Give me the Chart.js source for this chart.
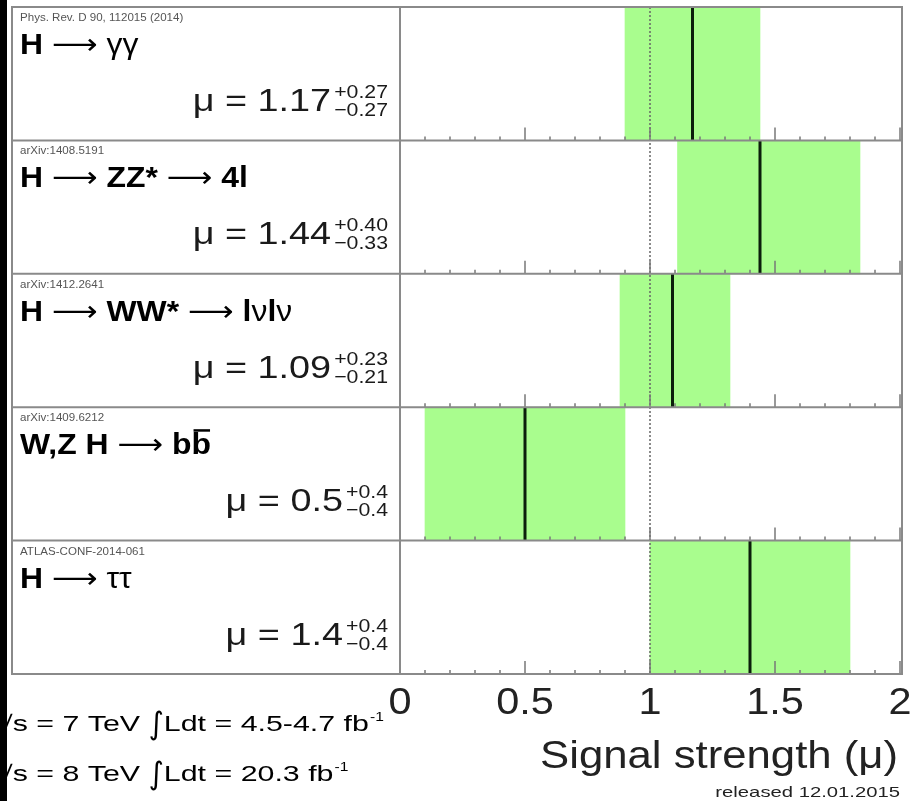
<!DOCTYPE html>
<html>
<head>
<meta charset="utf-8">
<script src="https://cdn.jsdelivr.net/npm/chart.js@4.4.1/dist/chart.umd.min.js"></script>
<style>
  html, body { margin: 0; padding: 0; background: #fff; }
  #wrap { width: 918px; height: 801px; position: relative; }
</style>
</head>
<body>
<div id="wrap"><canvas id="mu" width="918" height="801"></canvas></div>
<script>
// signal strength per channel, mu with asymmetric errors
const channels = ['H→γγ', 'H→ZZ*→4l', 'H→WW*→lνlν', 'W,Z H→bb', 'H→ττ'];
const refs = ['Phys. Rev. D 90, 112015 (2014)', 'arXiv:1408.5191', 'arXiv:1412.2641', 'arXiv:1409.6212', 'ATLAS-CONF-2014-061'];
const muVal = [1.17, 1.44, 1.09, 0.5, 1.4];
const errUp = [0.27, 0.40, 0.23, 0.4, 0.4];
const errDown = [0.27, 0.33, 0.21, 0.4, 0.4];
const digits = [2, 2, 2, 1, 1];
const xTicks = [0, 0.5, 1, 1.5, 2];
const xTickLabels = ['0', '0.5', '1', '1.5', '2'];

// channel titles as [text, bold, overline] pieces
const titleParts = [
  [['H', 1], [' ⟶ ', 0], ['γγ', 0]],
  [['H', 1], [' ⟶ ', 0], ['ZZ*', 1], [' ⟶ ', 0], ['4l', 1]],
  [['H', 1], [' ⟶ ', 0], ['WW*', 1], [' ⟶ ', 0], ['l', 1], ['ν', 0], ['l', 1], ['ν', 0]],
  [['W,Z H', 1], [' ⟶ ', 0], ['b', 1], ['b', 1, 1]],
  [['H', 1], [' ⟶ ', 0], ['ττ', 0]]
];

const FONT = '"Liberation Sans", Arial, "DejaVu Sans", sans-serif';

// draw text squeezed/stretched horizontally by k, returns drawn width
function putText(ctx, txt, x, y, font, k, align) {
  ctx.save();
  ctx.font = font;
  const w = ctx.measureText(txt).width * k;
  let x0 = x;
  if (align === 'right') x0 = x - w;
  else if (align === 'center') x0 = x - w / 2;
  ctx.translate(x0, y);
  ctx.scale(k, 1);
  ctx.textAlign = 'left';
  ctx.fillText(txt, 0, 0);
  ctx.restore();
  return w;
}

const decor = {
  id: 'decor',
  afterDatasetsDraw(chart) {
    const ctx = chart.ctx;
    const area = chart.chartArea;
    const xs = chart.scales.x;
    const ys = chart.scales.y;
    const half = (ys.getPixelForValue(1) - ys.getPixelForValue(0)) / 2;

    ctx.save();
    // reference line at mu = 1
    ctx.strokeStyle = '#666';
    ctx.lineWidth = 1.5;
    ctx.setLineDash([2, 2]);
    ctx.beginPath();
    ctx.moveTo(xs.getPixelForValue(1), area.top);
    ctx.lineTo(xs.getPixelForValue(1), area.bottom);
    ctx.stroke();
    ctx.setLineDash([]);

    channels.forEach((c, i) => {
      const yc = ys.getPixelForValue(i);
      const top = yc - half, bot = yc + half;

      // small ticks along the bottom of every row
      ctx.strokeStyle = '#777';
      ctx.lineWidth = 1.5;
      for (let t = 0; t <= 20; t++) {
        const px = xs.getPixelForValue(t / 10);
        const len = t % 5 === 0 ? 13 : 4;
        ctx.beginPath();
        ctx.moveTo(px, bot);
        ctx.lineTo(px, bot - len);
        ctx.stroke();
      }

      // central value
      ctx.strokeStyle = '#0b1f0b';
      ctx.lineWidth = 3;
      ctx.beginPath();
      ctx.moveTo(xs.getPixelForValue(muVal[i]), top);
      ctx.lineTo(xs.getPixelForValue(muVal[i]), bot);
      ctx.stroke();

      // left text panel
      ctx.fillStyle = '#555';
      putText(ctx, refs[i], 20, top + 14, '11px ' + FONT, 1.05, 'left');

      ctx.fillStyle = '#000';
      let x = 20;
      titleParts[i].forEach(p => {
        const f = (p[1] ? 'bold ' : '') + '29px ' + FONT;
        const w = putText(ctx, p[0], x, top + 47, f, 1.1, 'left');
        if (p[2]) {
          ctx.fillRect(x + 2, top + 22, w - 3, 2.5);
        }
        x += w;
      });

      ctx.fillStyle = '#1a1a1a';
      const up = '+' + errUp[i].toFixed(digits[i]);
      const dn = '−' + errDown[i].toFixed(digits[i]);
      const right = 388;
      const wu = putText(ctx, up, right, top + 91, '19px ' + FONT, 1.12, 'right');
      const wd = putText(ctx, dn, right, top + 109, '19px ' + FONT, 1.12, 'right');
      const ws = Math.max(wu, wd);
      putText(ctx, 'μ = ' + muVal[i].toFixed(digits[i]), right - ws - 3, top + 104, '31px ' + FONT, 1.22, 'right');
    });

    // row separators and frame
    ctx.strokeStyle = '#8a8a8a';
    ctx.lineWidth = 2;
    for (let i = 1; i < channels.length; i++) {
      const yb = ys.getPixelForValue(i) - half;
      ctx.beginPath();
      ctx.moveTo(12, yb);
      ctx.lineTo(area.right + 2, yb);
      ctx.stroke();
    }
    ctx.strokeRect(12, area.top, area.right + 2 - 12, area.bottom - area.top);
    ctx.beginPath();
    ctx.moveTo(area.left, area.top);
    ctx.lineTo(area.left, area.bottom);
    ctx.stroke();

    // axis labels and title under the plot
    ctx.fillStyle = '#222';
    xTicks.forEach((v, i) => {
      putText(ctx, xTickLabels[i], xs.getPixelForValue(v), area.bottom + 40, '37px ' + FONT, 1.12, 'center');
    });
    putText(ctx, 'Signal strength (μ)', area.right - 2, area.bottom + 94, '38px ' + FONT, 1.15, 'right');
    putText(ctx, 'released 12.01.2015', area.right, area.bottom + 123, '15px ' + FONT, 1.35, 'right');

    // luminosity lines
    ctx.fillStyle = '#000';
    [['7', '4.5-4.7'], ['8', '20.3']].forEach((r, j) => {
      const by = area.bottom + 57 + j * 50;
      let lx = -4;
      lx += putText(ctx, '√s = ' + r[0] + ' TeV ', lx, by, '22px ' + FONT, 1.38, 'left');
      lx += putText(ctx, '∫', lx, by + 3, '31px "DejaVu Sans", ' + FONT, 0.95, 'left');
      lx += putText(ctx, 'Ldt = ' + r[1] + ' fb', lx, by, '22px ' + FONT, 1.38, 'left');
      putText(ctx, '-1', lx + 1, by - 10, '13px ' + FONT, 1.2, 'left');
    });

    // dark strip at the left edge
    ctx.fillStyle = '#000';
    ctx.fillRect(0, 0, 7, chart.height);
    ctx.restore();
  }
};

new Chart(document.getElementById('mu'), {
  type: 'bar',
  data: {
    labels: channels,
    datasets: [{
      data: muVal.map((m, i) => [m - errDown[i], m + errUp[i]]),
      backgroundColor: '#a9fd8e',
      borderWidth: 0,
      borderSkipped: false,
      barPercentage: 1,
      categoryPercentage: 1
    }]
  },
  options: {
    indexAxis: 'y',
    responsive: false,
    animation: false,
    layout: { padding: { left: 400, right: 18, top: 7, bottom: 127 } },
    plugins: { legend: { display: false }, tooltip: { enabled: false } },
    scales: {
      x: { type: 'linear', min: 0, max: 2, display: false },
      y: { type: 'category', display: false, offset: true }
    }
  },
  plugins: [decor]
});
</script>
</body>
</html>
